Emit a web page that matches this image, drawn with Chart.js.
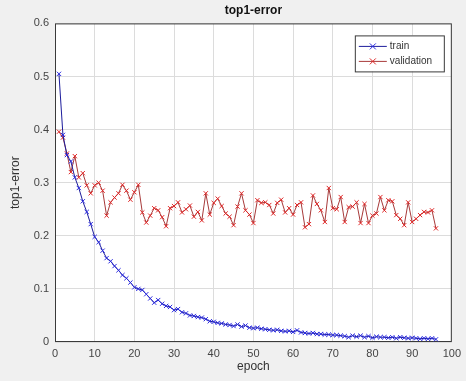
<!DOCTYPE html>
<html lang="en">
<head>
    <meta charset="UTF-8">
    <title>top1-error</title>
    <script src="https://cdn.jsdelivr.net/npm/chart.js@4.4.1/dist/chart.umd.min.js"></script>
    <style>
        html, body { margin: 0; padding: 0; background: #f0f0f0; }
        canvas { display: block; }
    </style>
</head>
<body>
    <canvas id="errChart" width="466" height="381"></canvas>

    <script>
        // values
        const epochs = [];
        for (let i = 1; i <= 96; i++) epochs.push(i);

        const trainErr = [
            0.505, 0.390, 0.352, 0.340, 0.310, 0.290, 0.265, 0.245, 0.222, 0.198,
            0.188, 0.172, 0.158, 0.152, 0.143, 0.135, 0.126, 0.120, 0.112, 0.103,
            0.100, 0.098, 0.090, 0.082, 0.074, 0.079, 0.072, 0.068, 0.066, 0.060,
            0.062, 0.056, 0.054, 0.050, 0.049, 0.047, 0.046, 0.043, 0.039, 0.038,
            0.036, 0.035, 0.033, 0.032, 0.030, 0.033, 0.029, 0.031, 0.027, 0.026,
            0.027, 0.025, 0.024, 0.023, 0.022, 0.023, 0.021, 0.020, 0.021, 0.019,
            0.022, 0.018, 0.017, 0.016, 0.017, 0.015, 0.015, 0.014, 0.014, 0.013,
            0.013, 0.012, 0.011, 0.009, 0.012, 0.010, 0.012, 0.009, 0.011, 0.008,
            0.010, 0.009, 0.009, 0.008, 0.009, 0.007, 0.009, 0.008, 0.007, 0.008,
            0.007, 0.006, 0.007, 0.006, 0.007, 0.005
        ];

        const valErr = [
            0.396, 0.385, 0.355, 0.320, 0.350, 0.310, 0.318, 0.295, 0.280, 0.295,
            0.300, 0.285, 0.238, 0.263, 0.272, 0.280, 0.296, 0.285, 0.268, 0.282,
            0.296, 0.244, 0.225, 0.238, 0.252, 0.248, 0.235, 0.218, 0.252, 0.256,
            0.263, 0.244, 0.250, 0.257, 0.236, 0.245, 0.229, 0.280, 0.240, 0.262,
            0.270, 0.256, 0.242, 0.236, 0.220, 0.255, 0.280, 0.248, 0.240, 0.224,
            0.267, 0.262, 0.263, 0.258, 0.242, 0.262, 0.268, 0.244, 0.252, 0.240,
            0.258, 0.263, 0.216, 0.222, 0.276, 0.260, 0.248, 0.226, 0.290, 0.252,
            0.250, 0.273, 0.226, 0.254, 0.255, 0.263, 0.224, 0.260, 0.224, 0.238,
            0.242, 0.273, 0.248, 0.267, 0.265, 0.239, 0.232, 0.220, 0.263, 0.226,
            0.232, 0.239, 0.245, 0.244, 0.248, 0.214
        ];

        const xTicks = [0, 10, 20, 30, 40, 50, 60, 70, 80, 90, 100];
        const yTicks = [0, 0.1, 0.2, 0.3, 0.4, 0.5, 0.6];

        const seriesNames = ['train', 'validation'];

        const toPoints = (arr) => arr.map((v, i) => ({ x: epochs[i], y: v }));

        // gray figure, white axes box, dark frame
        const frameBox = {
            id: 'frameBox',
            beforeDraw(chart) {
                const { ctx, chartArea: a } = chart;
                ctx.save();
                ctx.fillStyle = '#f0f0f0';
                ctx.fillRect(0, 0, chart.width, chart.height);
                ctx.fillStyle = '#ffffff';
                ctx.fillRect(a.left, a.top, a.right - a.left, a.bottom - a.top);
                ctx.restore();
            },
            beforeDatasetsDraw(chart) {
                const { ctx, chartArea: a } = chart;
                ctx.save();
                ctx.strokeStyle = '#3a3a3a';
                ctx.lineWidth = 1;
                ctx.strokeRect(a.left + 0.5, a.top + 0.5, a.right - a.left - 1, a.bottom - a.top - 1);
                ctx.restore();
            }
        };

        // legend box in the top right corner like matlab
        const cornerLegend = {
            id: 'cornerLegend',
            afterDraw(chart) {
                const { ctx, chartArea: a } = chart;
                const w = 89, h = 36;
                const x0 = a.right - 97, y0 = a.top + 12;
                ctx.save();
                ctx.fillStyle = '#ffffff';
                ctx.fillRect(x0, y0, w, h);
                ctx.strokeStyle = '#3a3a3a';
                ctx.lineWidth = 1;
                ctx.strokeRect(x0 + 0.5, y0 + 0.5, w, h);
                ctx.font = '10px "Liberation Sans", Arial, sans-serif';
                ctx.textBaseline = 'middle';
                chart.data.datasets.forEach((ds, i) => {
                    const yy = y0 + 11 + i * 15;
                    ctx.strokeStyle = ds.borderColor;
                    ctx.beginPath();
                    ctx.moveTo(x0 + 4, yy);
                    ctx.lineTo(x0 + 32, yy);
                    ctx.stroke();
                    ctx.strokeStyle = ds.pointBorderColor;
                    ctx.beginPath();
                    ctx.moveTo(x0 + 15, yy - 3); ctx.lineTo(x0 + 21, yy + 3);
                    ctx.moveTo(x0 + 21, yy - 3); ctx.lineTo(x0 + 15, yy + 3);
                    ctx.stroke();
                    ctx.fillStyle = '#333333';
                    ctx.fillText(ds.label, x0 + 35, yy);
                });
                ctx.restore();
            }
        };

        const ctx = document.getElementById('errChart').getContext('2d');
        new Chart(ctx, {
            type: 'line',
            data: {
                datasets: [
                    {
                        label: seriesNames[0],
                        data: toPoints(trainErr),
                        borderColor: '#1c1c9c',
                        borderWidth: 1,
                        pointStyle: 'crossRot',
                        pointRadius: 3,
                        pointBorderWidth: 1,
                        pointBorderColor: '#2a2ae0',
                        tension: 0
                    },
                    {
                        label: seriesNames[1],
                        data: toPoints(valErr),
                        borderColor: '#a83a3a',
                        borderWidth: 1,
                        pointStyle: 'crossRot',
                        pointRadius: 3,
                        pointBorderWidth: 1,
                        pointBorderColor: '#e02828',
                        tension: 0
                    }
                ]
            },
            options: {
                responsive: false,
                animation: false,
                layout: { padding: { top: 0, right: 11, bottom: 0, left: 0 } },
                scales: {
                    x: {
                        type: 'linear',
                        min: 0,
                        max: 100,
                        afterBuildTicks: (scale) => { scale.ticks = xTicks.map(v => ({ value: v })); },
                        afterFit: (scale) => { scale.height = 39; },
                        grid: { color: '#dcdcdc', drawTicks: false },
                        border: { display: false },
                        ticks: {
                            padding: 5,
                            maxRotation: 0,
                            minRotation: 0,
                            autoSkip: false,
                            color: '#444444',
                            font: { family: '"Liberation Sans", Arial, sans-serif', size: 11 },
                            callback: (v) => String(v)
                        },
                        title: {
                            display: true,
                            text: 'epoch',
                            color: '#333333',
                            padding: { top: 7, bottom: 7 },
                            font: { family: '"Liberation Sans", Arial, sans-serif', size: 12 }
                        }
                    },
                    y: {
                        min: 0,
                        max: 0.6,
                        afterBuildTicks: (scale) => { scale.ticks = yTicks.map(v => ({ value: v })); },
                        afterFit: (scale) => { scale.width = 55; },
                        grid: { color: '#dcdcdc', drawTicks: false },
                        border: { display: false },
                        ticks: {
                            padding: 6,
                            autoSkip: false,
                            color: '#444444',
                            font: { family: '"Liberation Sans", Arial, sans-serif', size: 11 },
                            callback: (v) => String(Math.round(v * 10) / 10)
                        },
                        title: {
                            display: true,
                            text: 'top1-error',
                            color: '#333333',
                            padding: { top: 8, bottom: 8 },
                            font: { family: '"Liberation Sans", Arial, sans-serif', size: 12 }
                        }
                    }
                },
                plugins: {
                    legend: { display: false },
                    tooltip: { enabled: false },
                    title: {
                        display: true,
                        fullSize: false,
                        text: 'top1-error',
                        color: '#111111',
                        padding: { top: 3, bottom: 6 },
                        font: { family: '"Liberation Sans", Arial, sans-serif', size: 12, weight: 'bold' }
                    }
                }
            },
            plugins: [frameBox, cornerLegend]
        });
    </script>
</body>
</html>
